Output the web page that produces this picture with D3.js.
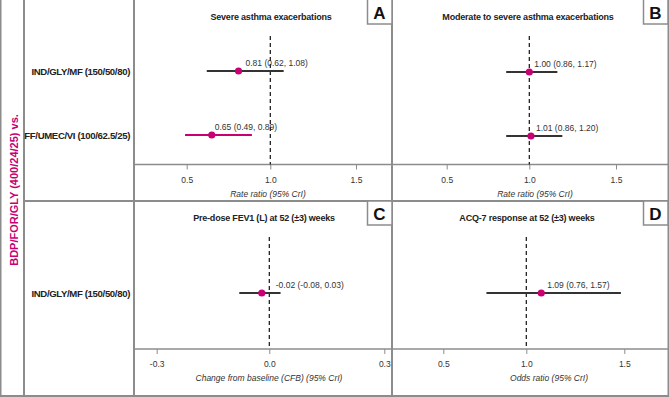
<!DOCTYPE html>
<html>
<head>
<meta charset="utf-8">
<script src="https://cdn.jsdelivr.net/npm/d3@7"></script>
<style>
  body { margin: 0; background: #fff; }
  svg { display: block; font-family: Arial, "Liberation Sans", sans-serif; }
</style>
</head>
<body>
<div id="chart"></div>
<script>
// data
const reference = 'BDP/FOR/GLY (400/24/25) vs.'
const comparators = ['IND/GLY/MF (150/50/80)', 'FF/UMEC/VI (100/62.5/25)']

const severeEst = [0.81, 0.65]
const severeLo = [0.62, 0.49]
const severeHi = [1.08, 0.89]

const modSevereEst = [1.00, 1.01]
const modSevereLo = [0.86, 0.86]
const modSevereHi = [1.17, 1.20]

const fev1Est = [-0.02]
const fev1Lo = [-0.08]
const fev1Hi = [0.03]

const acqEst = [1.09]
const acqLo = [0.76]
const acqHi = [1.57]

const ratioTicks = [0.5, 1.0, 1.5]
const ratioTickLabels = ['0.5', '1.0', '1.5']
const cfbTicks = [-0.3, 0.0, 0.3]
const cfbTickLabels = ['-0.3', '0.0', '0.3']

const fmt = d => d.toFixed(2)

const width = 669
const height = 397
const grey = '#8c8c8c'
const magenta = '#c80073'
const ink = '#333'

const svg = d3.select('#chart').append('svg')
  .attr('width', width)
  .attr('height', height)

// panel layout
const panels = [
  { letter: 'A', x0: 134, x1: 392, y0: 0, axisY: 164.5, rowRange: [39, 167],
    title: 'Severe asthma exacerbations', titleX: 271, axisTitle: 'Rate ratio (95% CrI)', axisTitleX: 268,
    ticks: ratioTicks, tickLabels: ratioTickLabels, tickPx: [186.7, 270.3, 356],
    cats: comparators, est: severeEst, lo: severeLo, hi: severeHi,
    lineColors: [ink, magenta], labelDx: [7, 3] },
  { letter: 'B', x0: 392, x1: 669, y0: 0, axisY: 164.5, rowRange: [40, 168],
    title: 'Moderate to severe asthma exacerbations', titleX: 528, axisTitle: 'Rate ratio (95% CrI)', axisTitleX: 535,
    ticks: ratioTicks, tickLabels: ratioTickLabels, tickPx: [446.7, 529.3, 616],
    cats: comparators, est: modSevereEst, lo: modSevereLo, hi: modSevereHi,
    lineColors: [ink, ink], labelDx: [5, 5] },
  { letter: 'C', x0: 134, x1: 392, y0: 201, axisY: 349, rowRange: [237, 349],
    title: 'Pre-dose FEV1 (L) at 52 (\u00b13) weeks', titleX: 264, axisTitle: 'Change from baseline (CFB)  (95% CrI)', axisTitleX: 269,
    ticks: cfbTicks, tickLabels: cfbTickLabels, tickPx: [156.7, 269.3, 384.3],
    cats: comparators.slice(0, 1), est: fev1Est, lo: fev1Lo, hi: fev1Hi,
    lineColors: [ink], labelDx: [14] },
  { letter: 'D', x0: 392, x1: 669, y0: 201, axisY: 349, rowRange: [237, 349],
    title: 'ACQ-7 response at 52 (\u00b13) weeks', titleX: 527, axisTitle: 'Odds ratio (95% CrI)', axisTitleX: 549,
    ticks: ratioTicks, tickLabels: ratioTickLabels, tickPx: [443.3, 526.3, 624.3],
    cats: comparators.slice(0, 1), est: acqEst, lo: acqLo, hi: acqHi,
    lineColors: [ink], labelDx: [6] }
]

// frame
const frame = svg.append('g')
  .attr('stroke', grey)
  .attr('fill', 'none')
frame.append('line').attr('x1', 0.75).attr('x2', 0.75).attr('y1', 0).attr('y2', height).attr('stroke-width', 1.5)
frame.append('line').attr('x1', 24).attr('x2', 24).attr('y1', 0).attr('y2', height).attr('stroke-width', 2)
frame.append('line').attr('x1', 134).attr('x2', 134).attr('y1', 0).attr('y2', height).attr('stroke-width', 2)
frame.append('line').attr('x1', 392).attr('x2', 392).attr('y1', 0).attr('y2', height).attr('stroke-width', 2)
frame.append('line').attr('x1', 668.25).attr('x2', 668.25).attr('y1', 0).attr('y2', height).attr('stroke-width', 1.5)
frame.append('line').attr('x1', 24).attr('x2', width).attr('y1', 201).attr('y2', 201).attr('stroke-width', 2)
frame.append('line').attr('x1', 0).attr('x2', width).attr('y1', 396).attr('y2', 396).attr('stroke-width', 2)

// reference treatment, rotated
svg.append('text')
  .attr('transform', 'translate(18,190) rotate(-90)')
  .attr('text-anchor', 'middle')
  .attr('fill', magenta)
  .attr('font-size', 11)
  .attr('font-weight', 'bold')
  .text(reference)

panels.forEach(p => {
  const g = svg.append('g')

  const axisScale = d3.scaleLinear().domain(p.ticks).range(p.tickPx)
  const x = d3.scaleLinear().domain(p.ticks.slice(0, 2)).range(p.tickPx.slice(0, 2))
  const y = d3.scalePoint().domain(p.cats).range(p.rowRange).padding(0.5)

  // title
  g.append('text')
    .attr('x', p.titleX)
    .attr('y', p.y0 + 20)
    .attr('text-anchor', 'middle')
    .attr('font-size', 9)
    .attr('font-weight', 'bold')
    .attr('fill', '#222')
    .attr('letter-spacing', -0.2)
    .text(p.title)

  // letter box
  g.append('rect')
    .attr('x', p.x1 - (p.x1 === width ? 25.5 : 24.5))
    .attr('y', p.y0 + (p.y0 === 0 ? -2 : 0))
    .attr('width', 24.5)
    .attr('height', p.y0 === 0 ? 26 : 24)
    .attr('fill', '#fff')
    .attr('stroke', grey)
    .attr('stroke-width', 1.5)
  g.append('text')
    .attr('x', p.x1 - (p.x1 === width ? 13.5 : 12.5))
    .attr('y', p.y0 + 18.5)
    .attr('text-anchor', 'middle')
    .attr('font-size', 17)
    .attr('font-weight', 'bold')
    .attr('fill', '#111')
    .text(p.letter)

  // axis
  g.append('line')
    .attr('x1', p.x0).attr('x2', p.x1)
    .attr('y1', p.axisY).attr('y2', p.axisY)
    .attr('stroke', grey)
    .attr('stroke-width', 1.5)

  const axis = g.append('g')
    .attr('transform', `translate(0,${p.axisY})`)
    .call(d3.axisBottom(axisScale)
      .tickValues(p.ticks)
      .tickFormat((d, i) => p.tickLabels[i])
      .tickSize(5)
      .tickPadding(7))
  axis.select('.domain').remove()
  axis.selectAll('.tick line').attr('stroke', grey)
  axis.selectAll('.tick text')
    .attr('fill', ink)
    .attr('font-size', 8.5)
    .attr('font-family', 'Arial, "Liberation Sans", sans-serif')

  g.append('text')
    .attr('x', p.axisTitleX)
    .attr('y', p.axisY + 32)
    .attr('text-anchor', 'middle')
    .attr('font-size', 8.5)
    .attr('font-style', 'italic')
    .attr('fill', ink)
    .text(p.axisTitle)

  // null line
  g.append('line')
    .attr('x1', x(p.ticks[1])).attr('x2', x(p.ticks[1]))
    .attr('y1', p.y0 + 36).attr('y2', p.axisY)
    .attr('stroke', '#111')
    .attr('stroke-width', 1.2)
    .attr('stroke-dasharray', '4,3')

  // intervals and points
  p.cats.forEach((c, i) => {
    g.append('line')
      .attr('x1', x(p.lo[i])).attr('x2', x(p.hi[i]))
      .attr('y1', y(c)).attr('y2', y(c))
      .attr('stroke', p.lineColors[i])
      .attr('stroke-width', 1.8)
    g.append('circle')
      .attr('cx', x(p.est[i]))
      .attr('cy', y(c))
      .attr('r', 3.6)
      .attr('fill', magenta)
    g.append('text')
      .attr('x', x(p.est[i]) + p.labelDx[i])
      .attr('y', y(c) - 5)
      .attr('font-size', 8.5)
      .attr('fill', ink)
      .text(`${fmt(p.est[i])} (${fmt(p.lo[i])}, ${fmt(p.hi[i])})`)
  })

  // row labels, left column
  if (p.x0 === 134) {
    p.cats.forEach(c => {
      svg.append('text')
        .attr('x', 130)
        .attr('y', y(c) + 3.5)
        .attr('text-anchor', 'end')
        .attr('font-size', 9.6)
        .attr('font-weight', 'bold')
        .attr('fill', '#222')
        .attr('letter-spacing', -0.35)
        .text(c)
    })
  }
})
</script>
</body>
</html>
